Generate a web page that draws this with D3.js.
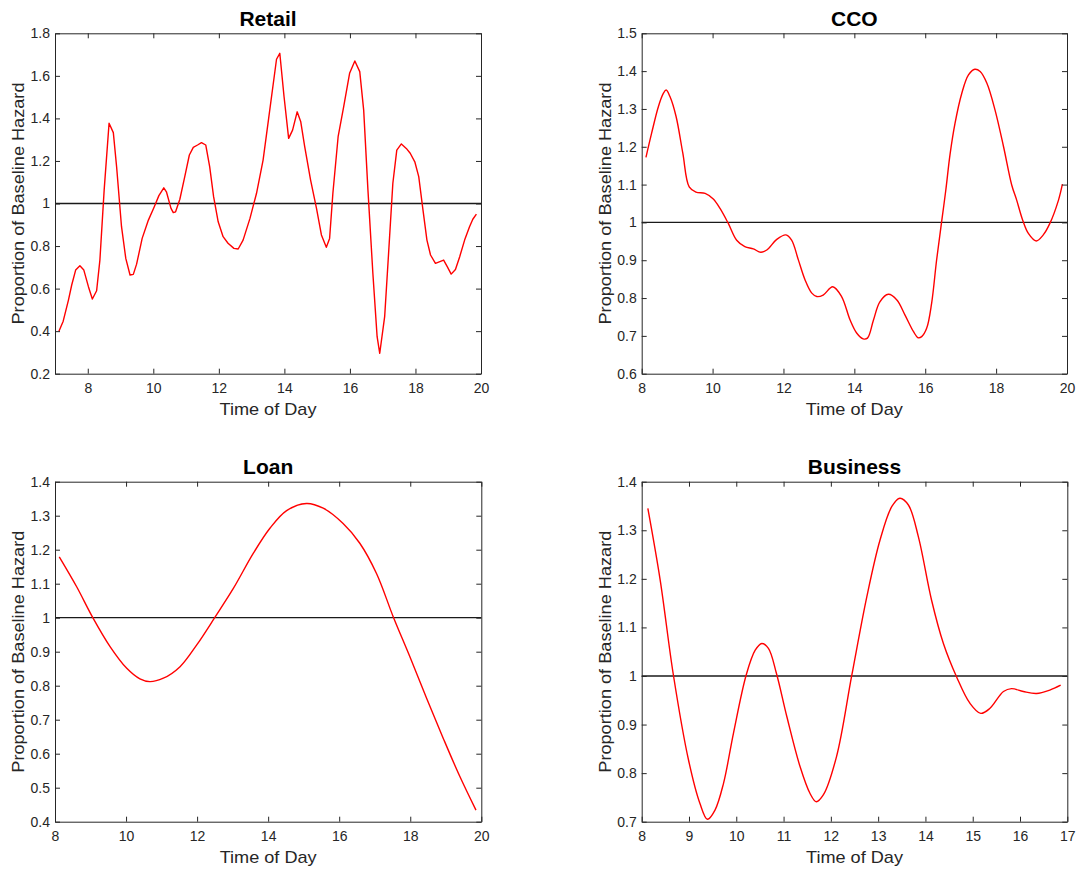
<!DOCTYPE html>
<html>
<head>
<meta charset="utf-8">
<script src="https://cdn.jsdelivr.net/npm/d3@7"></script>
<style>
  html, body { margin: 0; padding: 0; background: #fff; }
  svg { display: block; font-family: "Liberation Sans", Arial, Helvetica, sans-serif; }
</style>
</head>
<body>
<svg id="chart" width="1079" height="873"></svg>
<script>
// ---------------- DATA ----------------
const retailTime = [7.12,7.25,7.41,7.51,7.63,7.76,7.88,8.02,8.14,8.27,8.37,8.50,8.65,8.78,8.88,9.03,9.16,9.29,9.39,9.49,9.66,9.85,10.03,10.17,10.32,10.40,10.54,10.61,10.68,10.81,10.96,11.10,11.22,11.35,11.47,11.60,11.72,11.84,11.98,12.13,12.28,12.46,12.59,12.74,12.95,13.15,13.35,13.52,13.76,13.86,13.99,14.13,14.25,14.39,14.50,14.62,14.80,14.98,15.13,15.28,15.38,15.48,15.64,15.81,15.99,16.15,16.30,16.42,16.55,16.70,16.83,16.91,17.06,17.18,17.31,17.43,17.57,17.72,17.84,17.98,18.10,18.23,18.35,18.46,18.61,18.86,18.97,19.09,19.22,19.35,19.50,19.65,19.75,19.86];
const retailValue = [0.40,0.447,0.546,0.617,0.687,0.707,0.687,0.609,0.551,0.590,0.734,1.063,1.377,1.333,1.173,0.891,0.742,0.664,0.667,0.715,0.836,0.922,0.985,1.037,1.074,1.055,0.977,0.957,0.961,1.020,1.126,1.228,1.264,1.275,1.286,1.275,1.173,1.032,0.914,0.844,0.813,0.789,0.786,0.828,0.930,1.048,1.204,1.400,1.678,1.706,1.502,1.306,1.345,1.431,1.384,1.267,1.110,0.977,0.852,0.794,0.836,1.048,1.314,1.455,1.612,1.670,1.620,1.439,1.063,0.672,0.374,0.296,0.468,0.766,1.095,1.251,1.280,1.259,1.236,1.196,1.126,0.969,0.828,0.758,0.719,0.734,0.703,0.668,0.690,0.750,0.828,0.891,0.926,0.950];

const ccoTime = [8.12,8.28,8.47,8.61,8.69,8.80,8.97,9.16,9.34,9.53,9.79,10.02,10.21,10.44,10.68,10.91,11.15,11.36,11.53,11.81,12.07,12.23,12.42,12.61,12.80,12.94,13.12,13.39,13.64,13.88,14.07,14.25,14.37,14.54,14.72,14.96,15.20,15.43,15.67,15.80,15.90,16.04,16.18,16.32,16.46,16.58,16.70,16.84,17.03,17.22,17.40,17.55,17.74,17.97,18.21,18.44,18.58,18.75,18.91,19.13,19.33,19.52,19.76,19.87];
const ccoValue = [1.172,1.236,1.306,1.341,1.350,1.332,1.280,1.183,1.094,1.080,1.077,1.062,1.037,0.998,0.953,0.936,0.930,0.921,0.927,0.955,0.967,0.953,0.901,0.848,0.813,0.804,0.808,0.830,0.804,0.742,0.707,0.692,0.694,0.742,0.790,0.810,0.795,0.755,0.711,0.695,0.698,0.720,0.786,0.900,1.000,1.085,1.180,1.262,1.341,1.390,1.405,1.399,1.368,1.297,1.200,1.099,1.059,1.006,0.971,0.951,0.967,0.998,1.059,1.101];

const loanTime = [8.12,8.61,9.06,9.55,10.02,10.39,10.67,11.05,11.52,11.99,12.50,13.02,13.58,14.05,14.52,15.08,15.55,16.11,16.58,17.05,17.52,17.99,18.46,18.93,19.40,19.85];
const loanValue = [1.179,1.091,1.001,0.915,0.851,0.820,0.812,0.822,0.856,0.920,1.001,1.086,1.189,1.263,1.315,1.336,1.322,1.277,1.219,1.130,1.003,0.885,0.763,0.645,0.532,0.434];

const businessTime = [8.13,8.39,8.67,8.99,9.23,9.39,9.55,9.73,9.94,10.21,10.40,10.54,10.68,10.85,11.07,11.35,11.56,11.69,11.84,12.12,12.44,12.76,13.04,13.29,13.46,13.64,13.85,14.13,14.38,14.66,14.94,15.17,15.36,15.65,15.82,16.07,16.35,16.63,16.86];
const businessValue = [1.345,1.198,1.002,0.827,0.738,0.705,0.724,0.779,0.882,1.002,1.053,1.067,1.057,1.005,0.916,0.813,0.758,0.741,0.755,0.834,1.000,1.163,1.280,1.349,1.366,1.352,1.287,1.156,1.067,0.998,0.944,0.923,0.933,0.968,0.974,0.968,0.964,0.971,0.981];

const retailXTicks = [8,10,12,14,16,18,20];
const retailYTicks = [0.2,0.4,0.6,0.8,1,1.2,1.4,1.6,1.8];
const ccoXTicks = [8,10,12,14,16,18,20];
const ccoYTicks = [0.6,0.7,0.8,0.9,1,1.1,1.2,1.3,1.4,1.5];
const loanXTicks = [8,10,12,14,16,18,20];
const loanYTicks = [0.4,0.5,0.6,0.7,0.8,0.9,1,1.1,1.2,1.3,1.4];
const businessXTicks = [8,9,10,11,12,13,14,15,16,17];
const businessYTicks = [0.7,0.8,0.9,1,1.1,1.2,1.3,1.4];

const titles = ["Retail","CCO","Loan","Business"];
const xLabel = "Time of Day";
const yLabel = "Proportion of Baseline Hazard";
const baselineValue = 1;

// ---------------- LAYOUT ----------------
const panels = [
  {title: titles[0], t: retailTime, v: retailValue, xd: [7,20], yd: [0.2,1.8], xt: retailXTicks, yt: retailYTicks, box: [55, 481, 33.3, 373.7], smooth: false},
  {title: titles[1], t: ccoTime, v: ccoValue, xd: [8,20], yd: [0.6,1.5], xt: ccoXTicks, yt: ccoYTicks, box: [641.7, 1067, 33.3, 373.7], smooth: true},
  {title: titles[2], t: loanTime, v: loanValue, xd: [8,20], yd: [0.4,1.4], xt: loanXTicks, yt: loanYTicks, box: [55, 481.3, 481.7, 821.7], smooth: true},
  {title: titles[3], t: businessTime, v: businessValue, xd: [8,17], yd: [0.7,1.4], xt: businessXTicks, yt: businessYTicks, box: [641.7, 1067.3, 481.7, 821.7], smooth: true}
];

const svg = d3.select("#chart");
const axisColor = "#262626";
const fmt = d => String(+d.toFixed(2));

panels.forEach(p => {
  const [x0, x1, y0, y1] = p.box;
  const x = d3.scaleLinear().domain(p.xd).range([x0, x1]);
  const y = d3.scaleLinear().domain(p.yd).range([y1, y0]);
  const g = svg.append("g");

  // baseline at 1
  g.append("line")
    .attr("x1", x0).attr("x2", x1)
    .attr("y1", y(baselineValue)).attr("y2", y(baselineValue))
    .attr("stroke", "#1a1a1a").attr("stroke-width", 1.3);

  // series line
  const data = p.t.map((t, i) => [t, p.v[i]]);
  const line = d3.line().x(d => x(d[0])).y(d => y(d[1]))
    .curve(p.smooth ? d3.curveCatmullRom.alpha(0.5) : d3.curveLinear);
  g.append("path").datum(data)
    .attr("d", line)
    .attr("fill", "none")
    .attr("stroke", "#ff0000")
    .attr("stroke-width", 1.4)
    .attr("stroke-linejoin", "round");

  // axes
  const styleAxis = sel => {
    sel.select(".domain").attr("stroke", axisColor).attr("stroke-width", 1);
    sel.selectAll(".tick line").attr("stroke", axisColor).attr("stroke-width", 1);
    sel.selectAll(".tick text").attr("fill", axisColor)
      .attr("font-size", 14).attr("font-family", "Liberation Sans, Arial, sans-serif");
  };
  g.append("g").attr("transform", `translate(0,${y1})`)
    .call(d3.axisBottom(x).tickValues(p.xt).tickFormat(fmt).tickSizeInner(-5).tickSizeOuter(0).tickPadding(9.5))
    .call(styleAxis);
  g.append("g").attr("transform", `translate(0,${y0})`)
    .call(d3.axisTop(x).tickValues(p.xt).tickFormat("").tickSizeInner(-5).tickSizeOuter(0))
    .call(styleAxis);
  g.append("g").attr("transform", `translate(${x0},0)`)
    .call(d3.axisLeft(y).tickValues(p.yt).tickFormat(fmt).tickSizeInner(-5).tickSizeOuter(0).tickPadding(5))
    .call(styleAxis);
  g.append("g").attr("transform", `translate(${x1},0)`)
    .call(d3.axisRight(y).tickValues(p.yt).tickFormat("").tickSizeInner(-5).tickSizeOuter(0))
    .call(styleAxis);

  // title
  g.append("text")
    .attr("x", (x0 + x1) / 2).attr("y", y0 - 7.5)
    .attr("text-anchor", "middle")
    .attr("font-size", 21).attr("font-weight", "bold").attr("fill", "#000")
    .text(p.title);

  // x label
  g.append("text")
    .attr("x", (x0 + x1) / 2).attr("y", y1 + 41.5)
    .attr("text-anchor", "middle")
    .attr("font-size", 17).attr("fill", axisColor)
    .attr("textLength", 97).attr("lengthAdjust", "spacingAndGlyphs")
    .text(xLabel);

  // y label
  g.append("text")
    .attr("transform", `translate(${x0 - 31},${(y0 + y1) / 2}) rotate(-90)`)
    .attr("text-anchor", "middle")
    .attr("font-size", 17).attr("fill", axisColor)
    .attr("textLength", 242).attr("lengthAdjust", "spacingAndGlyphs")
    .text(yLabel);
});
</script>
</body>
</html>
